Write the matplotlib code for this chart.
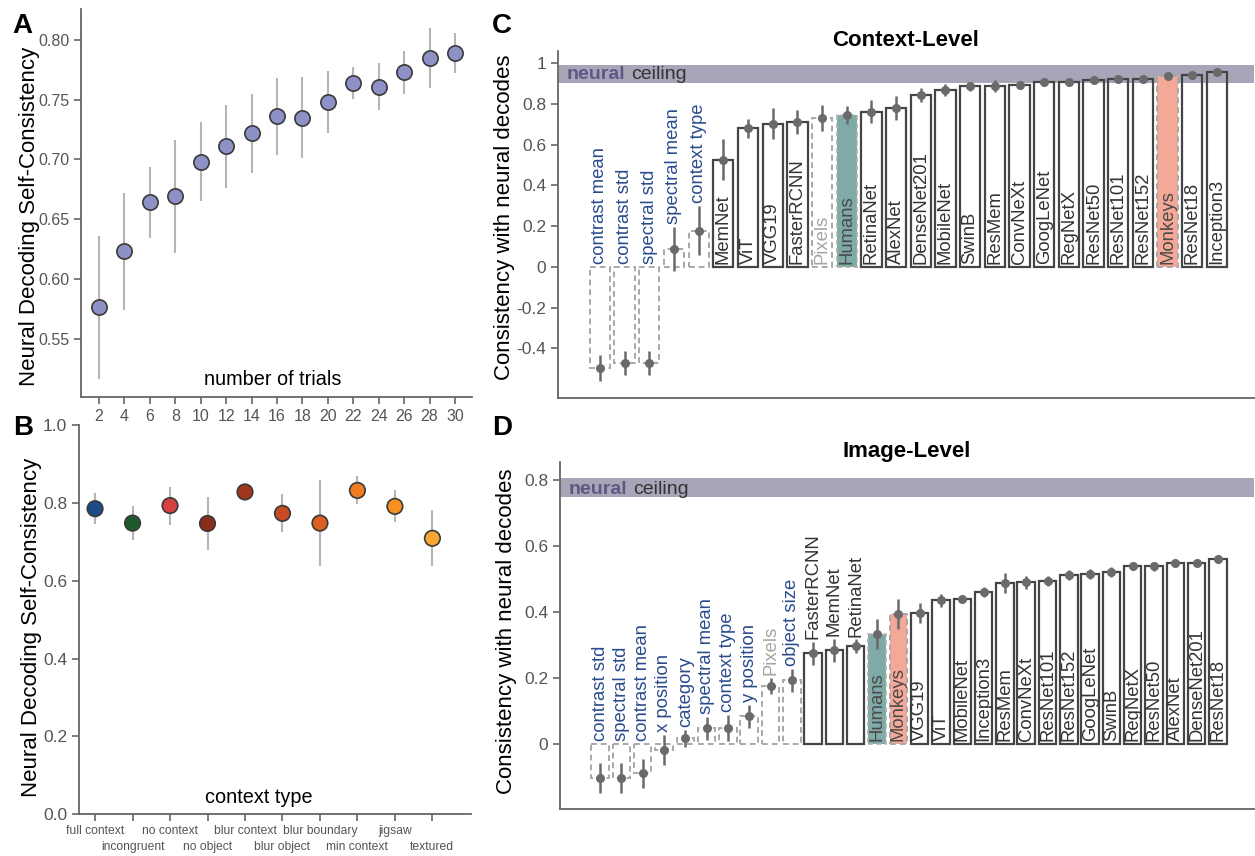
import matplotlib
matplotlib.use("Agg")
import matplotlib.pyplot as plt
import numpy as np

plt.rcParams['font.family'] = ['Liberation Sans', 'DejaVu Sans']

# Panel A: self-consistency vs number of trials
trials = [2, 4, 6, 8, 10, 12, 14, 16, 18, 20, 22, 24, 26, 28, 30]
trial_mean = [0.576, 0.623, 0.664, 0.669, 0.698, 0.711, 0.722, 0.736, 0.735,
              0.748, 0.764, 0.761, 0.773, 0.785, 0.789]
trial_err = [0.060, 0.049, 0.030, 0.047, 0.033, 0.035, 0.033, 0.032, 0.034,
             0.026, 0.013, 0.020, 0.018, 0.025, 0.017]

# Panel B: self-consistency by context type
contexts = ['full context', 'incongruent', 'no context', 'no object', 'blur context',
            'blur object', 'blur boundary', 'min context', 'jigsaw', 'textured']
context_mean = [0.785, 0.748, 0.793, 0.747, 0.828, 0.773, 0.748, 0.832, 0.791, 0.709]
context_err = [0.040, 0.043, 0.049, 0.067, 0.008, 0.049, 0.110, 0.036, 0.041, 0.072]
context_colors = ['#1d4b86', '#1e5a2c', '#d5413f', '#8a2d1b', '#a3361f',
                  '#c84a22', '#d9601f', '#ee7d22', '#f6911f', '#f8a730']

# Panel C: context-level consistency
ctx_names = ['contrast mean', 'contrast std', 'spectral std', 'spectral mean', 'context type',
             'MemNet', 'ViT', 'VGG19', 'FasterRCNN', 'Pixels', 'Humans', 'RetinaNet',
             'AlexNet', 'DenseNet201', 'MobileNet', 'SwinB', 'ResMem', 'ConvNeXt',
             'GoogLeNet', 'RegNetX', 'ResNet50', 'ResNet101', 'ResNet152', 'Monkeys',
             'ResNet18', 'Inception3']
ctx_vals = [-0.496, -0.472, -0.472, 0.088, 0.178, 0.526, 0.680, 0.703, 0.711, 0.732,
            0.747, 0.763, 0.780, 0.845, 0.870, 0.886, 0.888, 0.893, 0.906, 0.906,
            0.919, 0.925, 0.922, 0.938, 0.943, 0.957]
ctx_errs = [0.065, 0.060, 0.060, 0.110, 0.120, 0.100, 0.045, 0.075, 0.060, 0.065,
            0.045, 0.055, 0.060, 0.035, 0.030, 0.020, 0.030, 0.020, 0.015, 0.015,
            0.015, 0.015, 0.015, 0.015, 0.015, 0.012]
ctx_ceiling = (0.905, 0.990)

# Panel D: image-level consistency
img_names = ['contrast std', 'spectral std', 'contrast mean', 'x position', 'category',
             'spectral mean', 'context type', 'y position', 'Pixels', 'object size',
             'FasterRCNN', 'MemNet', 'RetinaNet', 'Humans', 'Monkeys', 'VGG19', 'ViT',
             'MobileNet', 'Inception3', 'ResMem', 'ConvNeXt', 'ResNet101', 'ResNet152',
             'GoogLeNet', 'SwinB', 'RegNetX', 'ResNet50', 'AlexNet', 'DenseNet201',
             'ResNet18']
img_vals = [-0.103, -0.103, -0.088, -0.017, 0.018, 0.048, 0.050, 0.084, 0.176, 0.194,
            0.275, 0.285, 0.297, 0.333, 0.394, 0.398, 0.436, 0.440, 0.461, 0.488,
            0.490, 0.495, 0.512, 0.515, 0.520, 0.538, 0.538, 0.550, 0.550, 0.562]
img_errs = [0.045, 0.045, 0.043, 0.045, 0.025, 0.035, 0.040, 0.035, 0.025, 0.035,
            0.035, 0.035, 0.020, 0.045, 0.045, 0.030, 0.020, 0.010, 0.015, 0.030,
            0.020, 0.015, 0.015, 0.015, 0.015, 0.010, 0.015, 0.010, 0.010, 0.012]
img_ceiling = (0.748, 0.807)

FEATURES = {'contrast mean', 'contrast std', 'spectral std', 'spectral mean',
            'context type', 'x position', 'y position', 'category', 'object size'}

SPINE = '#666666'
TICKC = '#555555'


def style_axes(ax):
    for s in ['top', 'right']:
        ax.spines[s].set_visible(False)
    for s in ['left', 'bottom']:
        ax.spines[s].set_color(SPINE)
        ax.spines[s].set_linewidth(1.3)
    ax.tick_params(colors=SPINE, labelcolor=TICKC, length=5, width=1.2)


fig = plt.figure(figsize=(12.55, 8.56), dpi=100)
fig.patch.set_facecolor('white')

# ---------- A ----------
axA = fig.add_axes([0.0645, 0.5362, 0.3116, 0.4533])
style_axes(axA)
axA.errorbar(trials, trial_mean, yerr=trial_err, fmt='none', ecolor='#b5b5b5',
             elinewidth=1.5, zorder=1)
axA.plot(trials, trial_mean, 'o', ms=11, mfc='#8e91c6', mec='#3a3a3a', mew=1.2, zorder=2)
axA.set_xlim(0.58, 31.34)
axA.set_ylim(0.501, 0.826)
axA.set_xticks(trials)
axA.set_yticks([0.55, 0.60, 0.65, 0.70, 0.75, 0.80])
axA.set_yticklabels(['0.55', '0.60', '0.65', '0.70', '0.75', '0.80'])
axA.tick_params(labelsize=11.5)
axA.set_ylabel('Neural Decoding Self-Consistency', fontsize=16)
axA.yaxis.set_label_coords(-0.105, 0.466)
axA.text(0.49, 0.03, 'number of trials', transform=axA.transAxes, ha='center',
         va='baseline', fontsize=14.3)

# ---------- B ----------
axB = fig.add_axes([0.0629, 0.0487, 0.3124, 0.4548])
style_axes(axB)
xb = np.arange(len(contexts))
axB.errorbar(xb, context_mean, yerr=context_err, fmt='none', ecolor='#b5b5b5',
             elinewidth=1.5, zorder=1)
axB.scatter(xb, context_mean, s=125, c=context_colors, edgecolors='#3a3a3a',
            linewidths=1.2, zorder=2)
axB.set_xlim(-0.43, 10.03)
axB.set_ylim(0, 1.0)
axB.set_yticks([0, 0.2, 0.4, 0.6, 0.8, 1.0])
axB.set_yticklabels(['0.0', '0.2', '0.4', '0.6', '0.8', '1.0'])
axB.tick_params(axis='y', labelsize=12.5)
# staggered category labels: even ones on the first row, odd ones on the second
axB.set_xticks(xb[0::2])
axB.set_xticklabels(contexts[0::2], fontsize=8.7)
axB.set_xticks(xb[1::2], minor=True)
axB.set_xticklabels(contexts[1::2], minor=True, fontsize=8.7)
axB.tick_params(axis='x', which='major', pad=3)
axB.tick_params(axis='x', which='minor', length=5, width=1.2, colors=SPINE,
                labelcolor=TICKC, pad=14.5)
axB.set_ylabel('Neural Decoding Self-Consistency', fontsize=16)
axB.yaxis.set_label_coords(-0.094, 0.481)
axB.text(0.458, 0.028, 'context type', transform=axB.transAxes, ha='center',
         va='baseline', fontsize=14.3)


# ---------- C & D ----------
def consistency_panel(ax, names, vals, errs, ceiling, title):
    style_axes(ax)
    x = np.arange(len(names))
    ax.axhspan(ceiling[0], ceiling[1], color='#a8a5b8', lw=0, zorder=0)
    for i, (n, v) in enumerate(zip(names, vals)):
        if n in FEATURES or n == 'Pixels':
            ax.bar(i, v, width=0.82, facecolor='none', edgecolor='#a8a8a8',
                   linestyle=(0, (3, 2)), linewidth=1.4, zorder=2)
        elif n == 'Humans':
            ax.bar(i, v, width=0.82, facecolor='#7faaa8', edgecolor='#b0b0b0',
                   linestyle=(0, (3, 2)), linewidth=1.2, zorder=2)
        elif n == 'Monkeys':
            ax.bar(i, v, width=0.82, facecolor='#f4a898', edgecolor='#a8a8a8',
                   linestyle=(0, (3, 2)), linewidth=1.4, zorder=2)
        else:
            ax.bar(i, v, width=0.82, facecolor='none', edgecolor='#454545',
                   linewidth=1.6, zorder=2)
    ax.errorbar(x, vals, yerr=errs, fmt='o', color='#6a6a6a', ms=5.5,
                elinewidth=1.8, capsize=0, zorder=4)

    # bar labels: inside tall bars, above the error bar otherwise
    for i, (n, v, e) in enumerate(zip(names, vals, errs)):
        if n in FEATURES:
            color = '#2b4c8c'
        elif n == 'Pixels':
            color = '#a5a5a5'
        elif n in ('Humans', 'Monkeys'):
            color = '#4a4a4a'
        else:
            color = '#333333'
        if n not in FEATURES and v > 0.31:
            y0 = 0
        else:
            y0 = max(0, v + e)
        ax.annotate(n, xy=(i, y0), xytext=(0, 2), textcoords='offset points',
                    rotation=90, ha='center', va='bottom', fontsize=13.3,
                    color=color, zorder=5)

    t1 = ax.annotate('neural', xy=(0.013, ceiling[0]),
                     xycoords=('axes fraction', 'data'), xytext=(0, 2.5),
                     textcoords='offset points', va='baseline', ha='left',
                     fontsize=14, fontweight='bold', color='#5c5a84', zorder=6)
    ax.annotate('ceiling', xy=(1, 0), xycoords=t1, xytext=(4, 0),
                textcoords='offset points', va='bottom', ha='left',
                fontsize=14, color='#333333', zorder=6)

    ax.set_xticks([])
    ax.set_ylabel('Consistency with neural decodes', fontsize=16)
    ax.tick_params(axis='y', labelsize=12.5)
    ax.set_title(title, fontsize=16, fontweight='bold', pad=1)


axC = fig.add_axes([0.4446, 0.535, 0.5546, 0.4054])
axC.set_xlim(-1.70, 26.5)
axC.set_ylim(-0.644, 1.06)
axC.set_yticks([-0.4, -0.2, 0, 0.2, 0.4, 0.6, 0.8, 1.0])
axC.set_yticklabels(['-0.4', '-0.2', '0', '0.2', '0.4', '0.6', '0.8', '1'])
consistency_panel(axC, ctx_names, ctx_vals, ctx_errs, ctx_ceiling, 'Context-Level')
axC.yaxis.set_label_coords(-0.062, 0.52)

axD = fig.add_axes([0.4462, 0.0549, 0.5530, 0.4057])
axD.set_xlim(-1.88, 30.69)
axD.set_ylim(-0.196, 0.855)
axD.set_yticks([0, 0.2, 0.4, 0.6, 0.8])
axD.set_yticklabels(['0', '0.2', '0.4', '0.6', '0.8'])
consistency_panel(axD, img_names, img_vals, img_errs, img_ceiling, 'Image-Level')
axD.yaxis.set_label_coords(-0.062, 0.511)

# panel letters
for letter, (px, py) in {'A': (12, 13), 'B': (13, 415), 'C': (492, 13), 'D': (492, 415)}.items():
    fig.text(px / 1255, 1 - py / 856, letter, fontsize=20, fontweight='bold',
             ha='left', va='top')

fig.savefig('out.png', dpi=100, facecolor='white')
